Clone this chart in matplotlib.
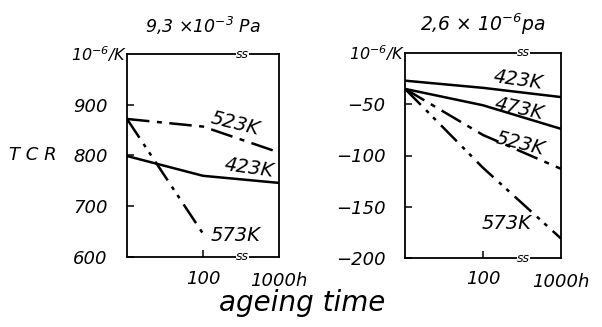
import matplotlib.pyplot as plt

# ageing time (h), log axis from 10 to 1000
hours = [10, 100, 1000]

# left panel, 9,3e-3 Pa
left_423 = [799, 760, 746]
left_523 = [872, 857, 806]
left_573_t = [10, 100]
left_573 = [872, 646]

# right panel, 2,6e-6 Pa
right_423 = [-27, -34, -43]
right_473 = [-35, -51, -74]
right_523 = [-35, -80, -113]
right_573 = [-35, -112, -181]

left_yticks = [600, 700, 800, 900]
right_yticks = [-200, -150, -100, -50]

plt.rcParams['font.family'] = ['DejaVu Sans']
plt.rcParams['font.style'] = 'italic'
plt.rcParams['mathtext.fontset'] = 'dejavusans'

DASHDOT = (0, (9, 3, 2, 3))
DASHDOTDOT = (0, (9, 3, 1.5, 2.5, 1.5, 3))
LW = 1.8

fig = plt.figure(figsize=(6.02, 3.27), dpi=100)
ax1 = fig.add_axes([127 / 602, 1 - 257 / 327, 152 / 602, 203 / 327])
ax2 = fig.add_axes([405 / 602, 1 - 258 / 327, 156 / 602, 205 / 327])


def setup(ax, ylim, yticks, title, title_size):
    ax.set_xscale('log')
    ax.set_xlim(10, 1000)
    ax.set_ylim(*ylim)
    ax.set_yticks(yticks)
    ax.set_yticklabels([str(v).replace('-', '\u2212') for v in yticks], fontsize=13)
    ax.set_xticks([100])
    ax.set_xticklabels(['100'], fontsize=13)
    ax.minorticks_off()
    ax.tick_params(direction='in', length=5, width=1.1, pad=9)
    ax.tick_params(axis='y', pad=14)
    for s in ax.spines.values():
        s.set_linewidth(1.3)
    ax.text(1000, -0.075, '1000h', transform=ax.get_xaxis_transform(),
            ha='center', va='top', fontsize=13)
    ax.text(0, 1.0, r'$10^{-6}$/K', transform=ax.transAxes,
            ha='right', va='center', fontsize=11.5)
    ax.text(0.5, 1.14, title, transform=ax.transAxes,
            ha='center', va='center', fontsize=title_size)
    # axis break marks
    for yy in (0, 1):
        ax.text(330, yy, 'ss', transform=ax.get_xaxis_transform(),
                ha='center', va='center', fontsize=9,
                bbox=dict(facecolor='white', edgecolor='none', pad=0.3))


setup(ax1, (600, 1000), left_yticks, r'9,3 ×$10^{-3}$ Pa', 12.5)
setup(ax2, (-200, 0), right_yticks, r'2,6 × $10^{-6}$pa', 13.5)

ax1.plot(hours, left_423, color='black', lw=LW)
ax1.plot(hours, left_523, color='black', lw=LW, linestyle=DASHDOT)
ax1.plot(left_573_t, left_573, color='black', lw=LW, linestyle=DASHDOTDOT)
ax1.text(265, 862, '523K', fontsize=14, rotation=-14, ha='center', va='center')
ax1.text(400, 776, '423K', fontsize=14, rotation=-8, ha='center', va='center')
ax1.text(272, 643, '573K', fontsize=14, ha='center', va='center')

ax2.plot(hours, right_423, color='black', lw=LW)
ax2.plot(hours, right_473, color='black', lw=LW)
ax2.plot(hours, right_523, color='black', lw=LW, linestyle=DASHDOT)
ax2.plot(hours, right_573, color='black', lw=LW, linestyle=DASHDOTDOT)
ax2.text(285, -26, '423K', fontsize=14, rotation=-8, ha='center', va='center')
ax2.text(290, -54, '473K', fontsize=14, rotation=-12, ha='center', va='center')
ax2.text(295, -88, '523K', fontsize=14, rotation=-14, ha='center', va='center')
ax2.text(203, -166, '573K', fontsize=14, ha='center', va='center')

fig.text(33 / 602, 1 - 155 / 327, 'T C R', ha='center', va='center', fontsize=13)
fig.text(302 / 602, 1 - 303 / 327, 'ageing time', ha='center', va='center', fontsize=20)

fig.savefig('out.png', dpi=100)
